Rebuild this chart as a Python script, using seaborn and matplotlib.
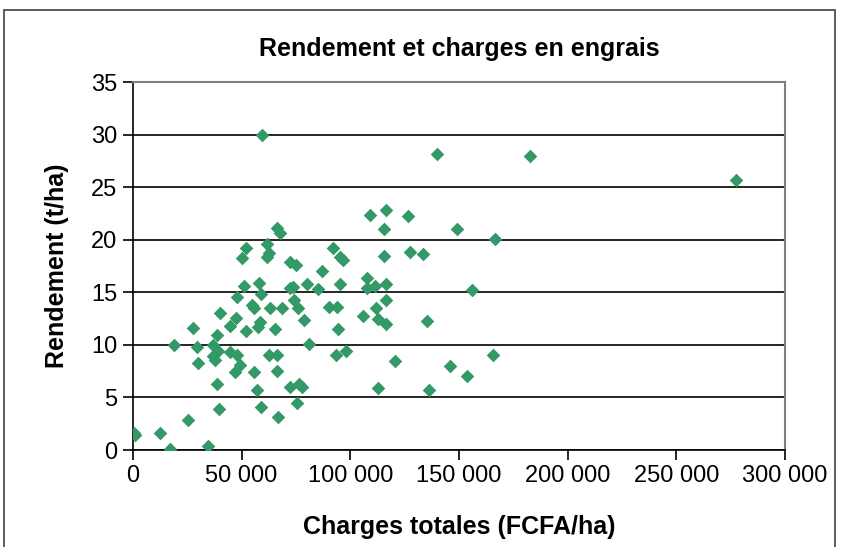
import numpy as np
import pandas as pd
import matplotlib
matplotlib.use("Agg")
import matplotlib.pyplot as plt
import seaborn as sns
from matplotlib.ticker import FuncFormatter, MultipleLocator
from matplotlib.patches import Rectangle

# ---------------------------------------------------------
# Data
# ---------------------------------------------------------
charges = [
    500, 800, 12700, 17300, 18900, 25400, 27700, 29300, 30000, 34400,
    36700, 37000, 38500, 39300, 38000, 38800, 39600, 40000, 44600, 44600,
    47400, 47700, 47700, 46900, 49200, 51200, 52000, 54900, 55700, 55800,
    58000, 58800, 58400, 57700, 57200, 58800, 63000, 62700, 66100, 65300,
    66100, 66900, 68400, 72200, 73800, 74100, 72500, 75300, 76100, 59500,
    66100, 67600, 52000, 61500, 50000, 62700, 61500, 72500, 75000, 140000,
    109000, 116300, 126700, 115600, 148900, 91900, 95200, 96500, 115600, 127400,
    133300, 86800, 107500, 80200, 85300, 95500, 107500, 111300, 116300, 78700,
    90300, 93700, 94200, 106000, 111800, 112600, 116300, 116300, 135400, 81000,
    93400, 98000, 120500, 145800, 153500, 76500, 77900, 112600, 136200, 182700,
    277400, 166600, 156100, 165800,
]
rendement = [
    1.6, 1.4, 1.6, 0.1, 10.0, 2.9, 11.6, 9.8, 8.3, 0.4,
    10.0, 8.9, 10.9, 9.4, 8.6, 6.3, 3.9, 13.0, 11.8, 9.3,
    12.6, 14.6, 9.0, 7.4, 8.1, 15.6, 11.3, 13.8, 13.5, 7.4,
    15.9, 14.8, 12.2, 11.7, 5.7, 4.1, 13.5, 9.0, 9.0, 11.5,
    7.5, 3.1, 13.5, 15.4, 15.5, 14.3, 6.0, 4.5, 13.5, 30.0,
    21.1, 20.6, 19.2, 19.6, 18.3, 18.7, 18.4, 17.9, 17.6, 28.2,
    22.4, 22.8, 22.3, 21.0, 21.0, 19.2, 18.4, 18.1, 18.5, 18.8,
    18.6, 17.0, 16.4, 15.8, 15.3, 15.8, 15.4, 15.6, 15.8, 12.4,
    13.6, 13.6, 11.5, 12.7, 13.5, 12.5, 14.3, 12.0, 12.3, 10.1,
    9.0, 9.4, 8.5, 8.0, 7.0, 6.3, 6.0, 5.9, 5.7, 28.0,
    25.7, 20.1, 15.2, 9.0,
]

df = pd.DataFrame({"charges": charges, "rendement": rendement})

# ---------------------------------------------------------
# Plot
# ---------------------------------------------------------
sns.set_theme(style="white")
plt.rcParams["font.family"] = ["Liberation Sans", "DejaVu Sans"]
plt.rcParams["text.color"] = "black"
plt.rcParams["axes.labelcolor"] = "black"
plt.rcParams["xtick.color"] = "black"
plt.rcParams["ytick.color"] = "black"

fig = plt.figure(figsize=(8.41, 5.47), dpi=100)
ax = fig.add_axes([0.158, 0.1773, 0.7754, 0.6727])

# outer chart border
fig.patches.append(Rectangle((0.005, -0.01), 0.988, 0.992, transform=fig.transFigure,
                             fill=False, edgecolor="#404040", linewidth=1.2))

sns.scatterplot(data=df, x="charges", y="rendement", marker="D", color="#339966",
                s=48, linewidth=0, ax=ax, zorder=3)

ax.set_xlim(0, 300000)
ax.set_ylim(0, 35)
ax.xaxis.set_major_locator(MultipleLocator(50000))
ax.yaxis.set_major_locator(MultipleLocator(5))
ax.xaxis.set_major_formatter(FuncFormatter(lambda v, p: f"{int(v):,}".replace(",", " ")))

ax.grid(axis="y", color="black", linewidth=1.2)
ax.set_axisbelow(True)

for side in ["left", "bottom"]:
    ax.spines[side].set_color("black")
    ax.spines[side].set_linewidth(1.2)
for side in ["top", "right"]:
    ax.spines[side].set_color("#808080")
    ax.spines[side].set_linewidth(1.5)

ax.tick_params(axis="both", direction="out", length=7, width=1.2, color="black",
               labelcolor="black", labelsize=17, pad=4, bottom=True, left=True)

ax.set_title("Rendement et charges en engrais", fontsize=18, fontweight="bold", pad=19)
ax.set_xlabel("Charges totales (FCFA/ha)", fontsize=18, fontweight="bold", labelpad=20)
ax.set_ylabel("Rendement (t/ha)", fontsize=18, fontweight="bold", labelpad=16)

fig.savefig("out.png", dpi=100)
